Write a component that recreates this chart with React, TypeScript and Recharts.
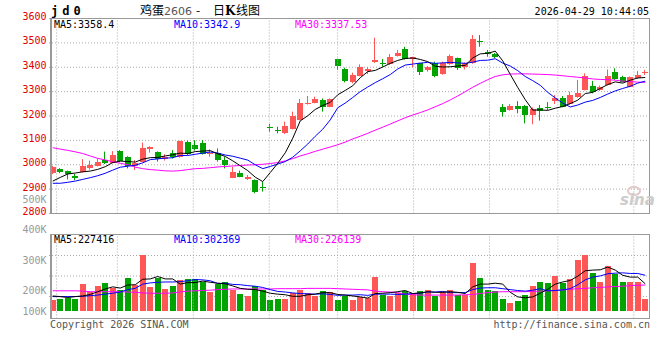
import React from 'react';
import { ComposedChart, Bar, Line, XAxis, YAxis, CartesianGrid, ReferenceLine } from 'recharts';

// trading days, 12-26 .. 04-29
const dates = [
  '12-26', '12-29', '12-30', '12-31', '01-05', '01-06', '01-07', '01-08', '01-09', '01-12',
  '01-13', '01-14', '01-15', '01-16', '01-19', '01-20', '01-21', '01-22', '01-23', '01-26',
  '01-27', '01-28', '01-29', '01-30', '02-02', '02-03', '02-04', '02-05', '02-06', '02-09',
  '02-10', '02-11', '02-12', '02-13', '02-24', '02-25', '02-26', '02-27', '03-02', '03-03',
  '03-04', '03-05', '03-06', '03-09', '03-10', '03-11', '03-12', '03-13', '03-16', '03-17',
  '03-18', '03-19', '03-20', '03-23', '03-24', '03-25', '03-26', '03-27', '03-30', '03-31',
  '04-01', '04-02', '04-03', '04-07', '04-08', '04-09', '04-10', '04-13', '04-14', '04-15',
  '04-16', '04-17', '04-20', '04-21', '04-22', '04-23', '04-24', '04-27', '04-28', '04-29',
];

const opens = [
  2966, 2983, 2974, 2954, 2970, 2987, 2996, 3019, 3008, 3056,
  3032, 2993, 3013, 3066, 3052, 3023, 3047, 3033, 3093, 3082,
  3088, 3044, 3050, 3020, 2947, 2967, 2940, 2937, 2908, 3155,
  3142, 3129, 3147, 3184, 3249, 3255, 3266, 3238, 3432, 3391,
  3341, 3365, 3385, 3420, 3418, 3412, 3446, 3475, 3432, 3416,
  3389, 3416, 3371, 3412, 3437, 3400, 3416, 3507, 3464, 3453,
  3238, 3225, 3241, 3241, 3204, 3231, 3236, 3262, 3274, 3249,
  3277, 3307, 3323, 3307, 3327, 3382, 3361, 3320, 3354, 3378,
];
const closes = [
  2991, 2969, 2962, 2946, 2996, 3000, 3011, 3007, 3040, 3015,
  2993, 3007, 3067, 3074, 3022, 3030, 3033, 3097, 3044, 3063,
  3044, 3050, 3020, 2999, 2971, 2951, 2948, 2890, 2905, 3152,
  3139, 3159, 3200, 3252, 3255, 3270, 3236, 3268, 3406, 3343,
  3368, 3402, 3393, 3430, 3414, 3441, 3460, 3434, 3441, 3382,
  3400, 3365, 3416, 3447, 3395, 3416, 3516, 3503, 3454, 3441,
  3218, 3241, 3229, 3204, 3227, 3222, 3233, 3274, 3238, 3286,
  3296, 3364, 3300, 3320, 3364, 3350, 3341, 3359, 3368, 3380,
];
const highs = [
  2995, 2986, 2976, 2962, 3023, 3017, 3025, 3054, 3056, 3060,
  3035, 3019, 3091, 3076, 3055, 3043, 3060, 3099, 3099, 3101,
  3101, 3063, 3067, 3033, 2992, 2976, 2958, 2940, 2930, 3167,
  3156, 3177, 3218, 3270, 3282, 3279, 3272, 3272, 3435, 3398,
  3378, 3412, 3400, 3521, 3434, 3454, 3471, 3484, 3443, 3418,
  3405, 3423, 3423, 3453, 3440, 3420, 3532, 3532, 3471, 3458,
  3249, 3249, 3261, 3245, 3235, 3245, 3257, 3286, 3282, 3300,
  3348, 3375, 3344, 3325, 3391, 3396, 3365, 3362, 3385, 3389,
];
const lows = [
  2962, 2965, 2940, 2937, 2968, 2980, 2993, 3003, 3006, 3010,
  2985, 2978, 3010, 3050, 3013, 3017, 3026, 3029, 3040, 3058,
  3042, 3033, 3013, 2985, 2945, 2949, 2938, 2883, 2890, 3136,
  3129, 3126, 3145, 3182, 3247, 3252, 3218, 3236, 3389, 3338,
  3334, 3363, 3372, 3418, 3402, 3410, 3444, 3432, 3400, 3368,
  3382, 3359, 3369, 3410, 3389, 3391, 3414, 3484, 3443, 3438,
  3197, 3222, 3211, 3170, 3166, 3181, 3225, 3249, 3236, 3247,
  3275, 3305, 3293, 3303, 3325, 3348, 3338, 3318, 3352, 3368,
];

const ma5 = [
  2933, 2948, 2962, 2966, 2971, 2974, 2981, 2992, 3009, 3015,
  3013, 3011, 3023, 3029, 3030, 3036, 3041, 3048, 3046, 3054,
  3056, 3058, 3045, 3034, 3016, 2996, 2976, 2949, 2931, 2968,
  3006, 3049, 3109, 3180, 3201, 3227, 3243, 3256, 3287, 3305,
  3324, 3357, 3382, 3387, 3401, 3416, 3428, 3436, 3438, 3432,
  3423, 3404, 3401, 3402, 3405, 3408, 3438, 3455, 3457, 3466,
  3426, 3371, 3317, 3267, 3224, 3225, 3223, 3232, 3239, 3251,
  3265, 3292, 3297, 3313, 3329, 3340, 3335, 3347, 3356, 3358,
];
const ma10 = [
  2924, 2924, 2928, 2933, 2940, 2947, 2955, 2965, 2978, 2990,
  2994, 2998, 3008, 3021, 3024, 3027, 3029, 3038, 3038, 3043,
  3048, 3052, 3048, 3040, 3035, 3027, 3019, 3000, 2984, 2993,
  3003, 3013, 3031, 3057, 3085, 3117, 3146, 3184, 3234, 3253,
  3276, 3300, 3319, 3337, 3353, 3370, 3393, 3409, 3413, 3417,
  3420, 3416, 3418, 3420, 3418, 3416, 3421, 3428, 3429, 3435,
  3417, 3405, 3386, 3362, 3345, 3326, 3297, 3274, 3253, 3237,
  3245, 3257, 3264, 3276, 3290, 3303, 3313, 3322, 3335, 3343,
];
const ma30 = [
  3070, 3064, 3059, 3053, 3046, 3036, 3026, 3020, 3012, 3006,
  3000, 2990, 2984, 2980, 2978, 2975, 2974, 2976, 2980, 2984,
  2985, 2988, 2991, 2993, 2995, 2997, 2999, 3000, 3002, 3005,
  3009, 3016, 3025, 3036, 3045, 3055, 3064, 3073, 3082, 3093,
  3106, 3117, 3129, 3142, 3154, 3167, 3180, 3193, 3204, 3214,
  3225, 3238, 3251, 3266, 3282, 3300, 3318, 3334, 3349, 3362,
  3369, 3372, 3373, 3373, 3372, 3371, 3370, 3368, 3365, 3362,
  3359, 3356, 3352, 3350, 3349, 3347, 3343, 3341, 3339, 3338,
];

const volumes = [
  169000, 172000, 177000, 172000, 220000, 194000, 215000, 224000, 207000, 202000,
  242000, 218000, 316000, 213000, 240000, 205000, 215000, 234000, 238000, 238000,
  229000, 196000, 220000, 227000, 202000, 189000, 182000, 215000, 202000, 169000,
  172000, 172000, 191000, 202000, 191000, 182000, 198000, 194000, 169000, 182000,
  169000, 180000, 174000, 245000, 185000, 183000, 191000, 198000, 191000, 198000,
  202000, 183000, 196000, 202000, 185000, 185000, 291000, 242000, 202000, 198000,
  172000, 158000, 166000, 185000, 215000, 229000, 226000, 248000, 224000, 238000,
  300000, 316000, 258000, 229000, 281000, 253000, 229000, 229000, 229000, 172000,
];
const volMa5 = [
  182000, 180000, 177000, 180000, 182000, 187000, 196000, 205000, 212000, 208000,
  218000, 219000, 237000, 238000, 246000, 238000, 238000, 221000, 226000, 226000,
  231000, 227000, 224000, 222000, 215000, 207000, 204000, 203000, 198000, 191000,
  188000, 186000, 181000, 181000, 186000, 188000, 193000, 193000, 187000, 185000,
  182000, 179000, 175000, 190000, 191000, 193000, 196000, 200000, 190000, 192000,
  196000, 194000, 194000, 196000, 194000, 190000, 212000, 221000, 221000, 224000,
  221000, 194000, 179000, 176000, 179000, 191000, 204000, 221000, 228000, 233000,
  247000, 265000, 267000, 268000, 277000, 267000, 250000, 244000, 244000, 222000,
];
const volMa10 = [
  180000, 180000, 180000, 180000, 181000, 183000, 185000, 188000, 191000, 195000,
  203000, 207000, 221000, 225000, 227000, 228000, 228000, 229000, 232000, 236000,
  235000, 232000, 223000, 224000, 220000, 219000, 216000, 214000, 210000, 203000,
  197000, 195000, 192000, 190000, 189000, 188000, 189000, 187000, 184000, 185000,
  185000, 186000, 184000, 188000, 188000, 188000, 187000, 188000, 190000, 191000,
  195000, 195000, 197000, 193000, 193000, 193000, 203000, 208000, 209000, 209000,
  206000, 203000, 200000, 198000, 201000, 206000, 199000, 200000, 202000, 206000,
  219000, 235000, 244000, 248000, 255000, 257000, 258000, 256000, 256000, 250000,
];
const volMa30 = [
  199000, 199000, 199000, 199000, 198000, 196000, 196000, 196000, 196000, 196000,
  195000, 194000, 192000, 191000, 191000, 191000, 192000, 195000, 198000, 199000,
  200000, 201000, 203000, 204000, 205000, 205000, 205000, 205000, 205000, 205000,
  206000, 206000, 206000, 206000, 207000, 207000, 207000, 207000, 206000, 205000,
  204000, 203000, 202000, 198000, 196000, 195000, 193000, 188000, 186000, 185000,
  185000, 185000, 185000, 185000, 185000, 186000, 187000, 190000, 193000, 195000,
  196000, 196000, 196000, 196000, 197000, 198000, 199000, 200000, 202000, 204000,
  206000, 207000, 209000, 210000, 212000, 213000, 214000, 216000, 217000, 218000,
];

const labelDates = ['12-29', '01-12', '01-26', '02-09', '03-02', '03-16', '03-30', '04-13', '04-27'];
const priceTicks = [2800, 2900, 3000, 3100, 3200, 3300, 3400, 3500, 3600];
const volTicks = [100000, 200000, 300000, 400000, 500000];

const PRICE_DOMAIN = [2800, 3600];
const VOL_DOMAIN = [108000, 384000];
const VOL_FLOOR = 131000;

const RED = '#ff5656';
const GREEN = '#00a300';
const GRID = '#aaaaaa';
const FRAME = '#999999';
const MONO = "'DejaVu Sans Mono', monospace";
const CJK = "'Noto Sans CJK SC', sans-serif";

const rows = dates.map((date, i) => ({
  date,
  idx: i,
  open: opens[i],
  close: closes[i],
  high: highs[i],
  low: lows[i],
  range: [lows[i], highs[i]],
  ma5: ma5[i],
  ma10: ma10[i],
  ma30: ma30[i],
  vol: volumes[i],
  vma5: volMa5[i],
  vma10: volMa10[i],
  vma30: volMa30[i],
}));

const tickIdx = labelDates.map((d) => dates.indexOf(d));

const Candle = (props: any) => {
  const { x, y, width, height, payload } = props;
  const { open, close, high, low } = payload;
  const color = close >= open ? RED : GREEN;
  const k = high > low ? height / (high - low) : 0;
  const yOf = (p: number) => y + (high - p) * k;
  const left = Math.round(x + width / 2 - 3);
  const top = Math.round(yOf(Math.max(open, close)));
  const bottom = Math.round(yOf(Math.min(open, close)));
  return (
    <g>
      <line x1={left + 2.5} x2={left + 2.5} y1={y} y2={y + height} stroke={color} strokeWidth={1} />
      <rect x={left} y={top} width={6} height={Math.max(1, bottom - top)} fill={color} />
    </g>
  );
};

const VolBar = (props: any) => {
  const { x, y, width, height, payload } = props;
  const color = payload.close >= payload.open ? RED : GREEN;
  const left = Math.round(x + width / 2 - 3);
  return <rect x={left} y={Math.round(y)} width={6} height={Math.round(y + height) - Math.round(y)} fill={color} />;
};

const PriceTick = ({ x, y, payload }: any) => (
  <text x={x - 2.5} y={y + 1.6} textAnchor="end" fill="#e00000" fontSize={10} fontFamily={MONO}>
    {payload.value}
  </text>
);

const VolTick = ({ x, y, payload }: any) => {
  // sina pins the lowest label inside the panel
  const lift = payload.value === volTicks[0] ? 10 : 0;
  return (
    <text x={x - 2.5} y={y + 3.6 - lift} textAnchor="end" fill="#999999" fontSize={10} fontFamily={MONO}>
      {payload.value / 1000}K
    </text>
  );
};

const DateTick = ({ x, y, payload }: any) => (
  <text x={x - 3} y={y + 10.8} textAnchor="middle" fill="#0066cc" fontSize={9} fontFamily={MONO}>
    {dates[payload.value]}
  </text>
);

const gridLines = tickIdx.map((i) => (
  <ReferenceLine key={i} xAxisId="grid" x={i} stroke={GRID} strokeDasharray="1 2" />
));

export default function App() {
  return (
    <div style={{ position: 'absolute', left: 0, top: 0, width: 660, height: 360, background: '#fff', overflow: 'hidden' }}>
      {/* price panel */}
      <div style={{ position: 'absolute', left: 0, top: 0 }}>
        <ComposedChart width={660} height={232} data={rows} margin={{ top: 18.5, right: 11, bottom: 0, left: 0 }}>
          <CartesianGrid vertical={false} stroke={GRID} strokeDasharray="1 2" />
          <XAxis dataKey="date" hide />
          <XAxis
            xAxisId="grid"
            type="number"
            dataKey="idx"
            domain={[0, dates.length - 1]}
            allowDataOverflow
            ticks={tickIdx}
            interval={0}
            height={18.5}
            axisLine={false}
            tickLine={false}
            tickSize={0}
            tickMargin={0}
            tick={<DateTick />}
          />
          <YAxis
            domain={PRICE_DOMAIN}
            allowDataOverflow
            ticks={priceTicks}
            interval={0}
            width={49}
            axisLine={false}
            tickLine={false}
            tickSize={0}
            tickMargin={0}
            tick={<PriceTick />}
          />
          {gridLines}
          <Bar dataKey="range" shape={<Candle />} isAnimationActive={false} />
          <Line type="linear" dataKey="ma30" stroke="#ff00ff" strokeWidth={1} dot={false} isAnimationActive={false} />
          <Line type="linear" dataKey="ma10" stroke="#0000ff" strokeWidth={1} dot={false} isAnimationActive={false} />
          <Line type="linear" dataKey="ma5" stroke="#000000" strokeWidth={1} dot={false} isAnimationActive={false} />
        </ComposedChart>
      </div>

      {/* volume panel */}
      <div style={{ position: 'absolute', left: 0, top: 190 }}>
        <ComposedChart width={660} height={140} data={rows} margin={{ top: 44.5, right: 11, bottom: 11.5, left: 0 }}>
          <CartesianGrid vertical={false} horizontalPoints={[65.5, 86, 106.5]} stroke={GRID} strokeDasharray="1 2" />
          <XAxis dataKey="date" hide />
          <XAxis xAxisId="grid" type="number" dataKey="idx" domain={[0, dates.length - 1]} allowDataOverflow hide />
          <YAxis
            domain={VOL_DOMAIN}
            allowDataOverflow
            ticks={volTicks}
            interval={0}
            width={49}
            axisLine={false}
            tickLine={false}
            tickSize={0}
            tickMargin={0}
            tick={<VolTick />}
          />
          {gridLines}
          <Bar dataKey={(d: any) => [VOL_FLOOR, d.vol]} shape={<VolBar />} isAnimationActive={false} />
          <Line type="linear" dataKey="vma30" stroke="#ff00ff" strokeWidth={1} dot={false} isAnimationActive={false} />
          <Line type="linear" dataKey="vma10" stroke="#0000ff" strokeWidth={1} dot={false} isAnimationActive={false} />
          <Line type="linear" dataKey="vma5" stroke="#000000" strokeWidth={1} dot={false} isAnimationActive={false} />
        </ComposedChart>
      </div>

      {/* frames, captions */}
      <svg width={660} height={360} style={{ position: 'absolute', left: 0, top: 0, pointerEvents: 'none' }}>
        <rect x={50.5} y={18.5} width={599} height={195} fill="none" stroke={FRAME} />
        <line x1={51.5} x2={51.5} y1={18.5} y2={213.5} stroke={FRAME} />
        <rect x={50.5} y={234.5} width={599} height={84} fill="none" stroke={FRAME} />
        <line x1={51.5} x2={51.5} y1={234.5} y2={318.5} stroke={FRAME} />

        <text x={51} y={15} fontFamily={MONO} fontSize={12} fontWeight="bold" letterSpacing={4} fill="#000">jd0</text>
        <text y={15} fontFamily={CJK} fontSize={12} fill="#000">
          <tspan x={140}>鸡蛋</tspan>
          <tspan x={164} fill="#555" fontFamily="'DejaVu Sans', sans-serif" fontSize={11}>2606</tspan>
          <tspan x={196}>-</tspan>
          <tspan x={213}>日</tspan>
          <tspan x={225} fontWeight="bold" fontFamily="'DejaVu Serif', serif">K</tspan>
          <tspan x={236}>线图</tspan>
        </text>
        <text x={649} y={15} textAnchor="end" fontFamily={MONO} fontSize={10} fill="#000">2026-04-29 10:44:05</text>

        <text x={54} y={27.5} fontFamily={MONO} fontSize={10} fill="#000">MA5:3358.4</text>
        <text x={174} y={27.5} fontFamily={MONO} fontSize={10} fill="#0000ff">MA10:3342.9</text>
        <text x={295} y={27.5} fontFamily={MONO} fontSize={10} fill="#ff00ff">MA30:3337.53</text>

        <text x={54} y={242.5} fontFamily={MONO} fontSize={10} fill="#000">MA5:227416</text>
        <text x={174} y={242.5} fontFamily={MONO} fontSize={10} fill="#0000ff">MA10:302369</text>
        <text x={295} y={242.5} fontFamily={MONO} fontSize={10} fill="#ff00ff">MA30:226139</text>

        <ellipse cx={634} cy={191} rx={6} ry={4} fill="none" stroke="#e2caca" strokeWidth={2} />
        <text x={620} y={205} fontFamily="'DejaVu Sans', sans-serif" fontSize={15} fontStyle="italic" fontWeight="bold" fill="#cccccc">sina</text>

        <text x={50} y={327.5} fontFamily={MONO} fontSize={10} fill="#555">Copyright 2026 SINA.COM</text>
        <text x={650} y={327.5} textAnchor="end" fontFamily={MONO} fontSize={10} fill="#555">http://finance.sina.com.cn</text>
      </svg>
    </div>
  );
}
